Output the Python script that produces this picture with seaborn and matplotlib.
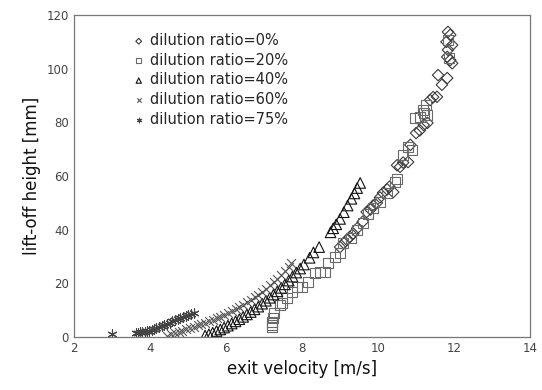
import numpy as np
import pandas as pd
import matplotlib
matplotlib.use("Agg")
import matplotlib.pyplot as plt
import seaborn as sns

# dilution ratio = 0 %
v_0 = [9.0, 9.1, 9.18, 9.26, 9.35, 9.45, 9.6, 9.7, 9.8, 9.87, 9.97, 10.05, 10.13,
       10.24, 10.3, 10.4, 10.5, 10.58, 10.66, 10.79, 10.85, 11.0, 11.1, 11.2, 11.3,
       11.37, 11.45, 11.55, 11.58, 11.68, 11.82, 11.8, 11.82, 11.84, 11.9, 11.95,
       11.84, 11.9, 11.95]
h_0 = [33.5, 35.0, 36.2, 37.3, 38.5, 40.5, 43.0, 46.6, 47.5, 49.0, 50.0, 52.0, 53.7,
       55.0, 56.0, 54.0, 64.0, 63.4, 65.0, 65.2, 71.6, 76.0, 77.0, 79.0, 79.8,
       88.3, 89.4, 89.5, 97.6, 94.0, 96.5, 110.0, 104.4, 113.7, 112.6, 108.8,
       107.0, 103.2, 102.0]

# dilution ratio = 20 %
v_20 = [7.2, 7.2, 7.22, 7.23, 7.25, 7.42, 7.47, 7.6, 7.74, 7.87, 8.0, 8.16, 8.34,
        8.47, 8.6, 8.68, 8.87, 9.0, 9.08, 9.3, 9.45, 9.6, 9.74, 9.87, 10.05, 10.24,
        10.45, 10.5, 10.66, 10.79, 10.9, 10.97, 11.1, 11.18, 11.2, 11.25, 11.3,
        11.84, 11.86]
h_20 = [3.7, 4.5, 5.6, 7.2, 9.0, 12.0, 12.6, 14.5, 16.8, 18.6, 18.6, 20.5, 23.8,
        24.2, 24.2, 27.6, 29.8, 31.3, 35.0, 37.0, 40.0, 42.5, 46.0, 48.0, 50.3, 53.7,
        57.8, 59.0, 67.8, 70.8, 69.7, 81.6, 82.0, 84.6, 83.5, 86.5, 82.7,
        110.7, 104.0]

# dilution ratio = 40 %
v_40 = [5.45, 5.55, 5.65, 5.75, 5.85, 5.95, 6.05, 6.15, 6.25, 6.35, 6.45, 6.55,
        6.65, 6.75, 6.85, 6.95, 7.05, 7.15, 7.25, 7.35, 7.45, 7.55, 7.65, 7.75,
        7.85, 7.95, 8.05, 8.2, 8.3, 8.45, 8.75, 8.82, 8.9, 9.0, 9.1, 9.2, 9.3,
        9.38, 9.45, 9.53]
h_40 = [0.5, 1.0, 1.6, 2.2, 2.8, 3.5, 4.2, 5.0, 5.8, 6.6, 7.5, 8.4, 9.3, 10.3,
        11.3, 12.4, 13.5, 14.6, 15.8, 17.0, 18.3, 19.6, 21.0, 22.5, 24.0, 25.5,
        27.0, 29.5, 31.5, 33.5, 39.0, 40.5, 42.0, 44.0, 46.5, 49.0, 51.5, 53.5,
        55.5, 57.4]

# dilution ratio = 60 %
v_60 = [4.45, 4.55, 4.65, 4.75, 4.85, 4.95, 5.05, 5.15, 5.25, 5.35, 5.45, 5.55,
        5.65, 5.75, 5.85, 5.95, 6.05, 6.15, 6.25, 6.35, 6.45, 6.55, 6.65, 6.75,
        6.85, 6.95, 7.05, 7.15, 7.25, 7.35, 7.45, 7.55, 7.65, 7.72]
h_60 = [0.5, 1.0, 1.4, 1.9, 2.3, 2.8, 3.3, 3.8, 4.3, 4.8, 5.3, 5.8, 6.4, 7.0,
        7.6, 8.2, 8.9, 9.6, 10.4, 11.2, 12.0, 12.9, 13.8, 14.8, 15.8, 16.9, 18.0,
        19.2, 20.4, 21.7, 23.0, 24.4, 25.9, 27.5]

# dilution ratio = 75 %
v_75 = [3.0, 3.62, 3.68, 3.74, 3.8, 3.86, 3.92, 3.98, 4.04, 4.1, 4.17, 4.24, 4.31,
        4.38, 4.45, 4.52, 4.59, 4.66, 4.73, 4.8, 4.87, 4.94, 5.01, 5.08, 5.15]
h_75 = [1.2, 1.5, 1.6, 1.7, 1.8, 2.0, 2.1, 2.3, 2.6, 2.9, 3.2, 3.6, 4.0, 4.4, 4.9,
        5.3, 5.8, 6.2, 6.7, 7.1, 7.5, 7.9, 8.3, 8.7, 9.1]

labels = ["dilution ratio=0%", "dilution ratio=20%", "dilution ratio=40%",
          "dilution ratio=60%", "dilution ratio=75%"]

series = [(v_0, h_0), (v_20, h_20), (v_40, h_40), (v_60, h_60), (v_75, h_75)]
markers = ["D", "s", "^", "x", (6, 2, 0)]
colors = ["#3a3a3a", "#6a6a6a", "#111111", "#555555", "#444444"]
sizes = [34, 52, 58, 40, 44]

sns.set_style("white")
plt.rcParams["font.family"] = ["DejaVu Sans"]

fig, ax = plt.subplots(figsize=(5.42, 3.9), dpi=100)
fig.subplots_adjust(left=0.1365, right=0.978, bottom=0.136, top=0.9615)

for (vx, hy), lab, mk, col, sz in zip(series, labels, markers, colors, sizes):
    df = pd.DataFrame({"v": vx, "h": hy})
    if mk in ("x", (6, 2, 0)):
        sns.scatterplot(data=df, x="v", y="h", marker=mk, s=sz, color=col,
                        linewidth=0.8, ax=ax, label=lab)
    else:
        sns.scatterplot(data=df, x="v", y="h", marker=mk, s=sz,
                        facecolor="none", edgecolor=col, linewidth=0.8,
                        ax=ax, label=lab)

ax.set_xlim(2, 14)
ax.set_ylim(0, 120)
ax.set_xticks(np.arange(2, 15, 2))
ax.set_yticks(np.arange(0, 121, 20))
ax.set_xlabel("exit velocity [m/s]", fontsize=12, color="#111111")
ax.set_ylabel("lift-off height [mm]", fontsize=12, color="#111111")
ax.tick_params(axis="both", direction="in", length=4, width=0.8, colors="#666666",
               labelsize=8.5, labelcolor="#444444")
for sp in ax.spines.values():
    sp.set_color("#777777")
    sp.set_linewidth(0.9)

ax.legend(loc="upper left", bbox_to_anchor=(0.11, 0.962), frameon=False,
          fontsize=10.5, markerscale=0.5, handletextpad=0.2, labelspacing=0.32,
          borderaxespad=0, handlelength=1.2)

fig.savefig("out.png", dpi=100, facecolor="white")
